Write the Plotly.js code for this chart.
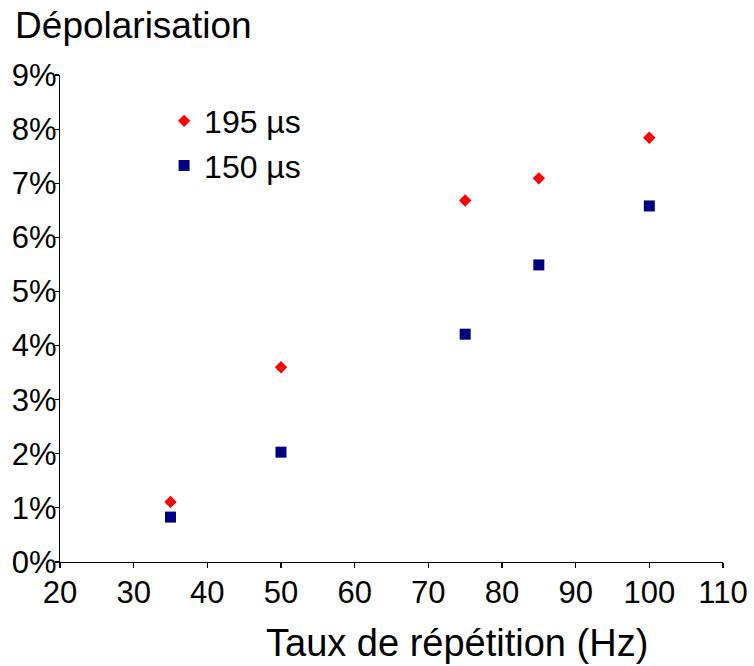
<!DOCTYPE html>
<html>
<head>
<meta charset="utf-8">
<script src="https://cdn.plot.ly/plotly-3.0.1.min.js"></script>
<style>html,body{margin:0;padding:0;background:#fff;}</style>
</head>
<body>
<div id="chart" style="width:754px;height:666px;"></div>
<script>
const frequencies = [35, 50, 75, 85, 100];
const depol195 = [1.11, 3.60, 6.68, 7.09, 7.84];
const depol150 = [0.83, 2.03, 4.21, 5.49, 6.58];
const seriesNames = ['195 µs', '150 µs'];
const yTickVals = [0, 1, 2, 3, 4, 5, 6, 7, 8, 9];
const yTickText = yTickVals.map(v => v + '%');
const xTickVals = [20, 30, 40, 50, 60, 70, 80, 90, 100, 110];

const FONT = 'Arial, "Liberation Sans", sans-serif';

const traces = [
  {
    x: frequencies, y: depol195, name: seriesNames[0], type: 'scatter', mode: 'markers',
    marker: {symbol: 'diamond', size: 9.5, color: '#ff0000', line: {width: 0}}
  },
  {
    x: frequencies, y: depol150, name: seriesNames[1], type: 'scatter', mode: 'markers',
    marker: {symbol: 'square', size: 11, color: '#000080', line: {width: 0}}
  }
];

const layout = {
  width: 754, height: 666,
  margin: {l: 60, r: 31, t: 75, b: 104},
  paper_bgcolor: '#fff', plot_bgcolor: '#fff',
  font: {family: FONT, color: '#000', size: 31},
  title: {
    text: 'Dépolarisation', x: 0.02, xanchor: 'left', xref: 'container',
    y: 0.962, yanchor: 'middle', yref: 'container',
    font: {family: FONT, size: 37, color: '#000'}
  },
  xaxis: {
    range: [20, 110], tickvals: xTickVals, showgrid: false, zeroline: false,
    showline: true, linecolor: '#000', linewidth: 1.2,
    ticks: 'outside', ticklen: 5, tickcolor: '#000', tickwidth: 1.2,
    tickfont: {family: FONT, size: 31, color: '#000'},
    ticklabelstandoff: -2
  },
  yaxis: {
    range: [0, 9], tickvals: yTickVals, ticktext: yTickText, showgrid: false, zeroline: false,
    showline: true, linecolor: '#000', linewidth: 1.2,
    ticks: 'outside', ticklen: 4, tickcolor: '#000', tickwidth: 1.2,
    tickfont: {family: FONT, size: 31, color: '#000'},
    ticklabelstandoff: -8
  },
  showlegend: true,
  legend: {
    x: 0.157, xanchor: 'left', y: 0.962, yanchor: 'top',
    bgcolor: 'rgba(0,0,0,0)', borderwidth: 0,
    font: {family: FONT, size: 32, color: '#000'}
  },
  annotations: [{
    text: 'Taux de répétition (Hz)', xref: 'paper', yref: 'paper',
    x: 0.599, y: -0.166, xanchor: 'center', yanchor: 'middle', showarrow: false,
    font: {family: FONT, size: 38, color: '#000'}
  }]
};

Plotly.newPlot('chart', traces, layout, {displayModeBar: false, staticPlot: true});
</script>
</body>
</html>
